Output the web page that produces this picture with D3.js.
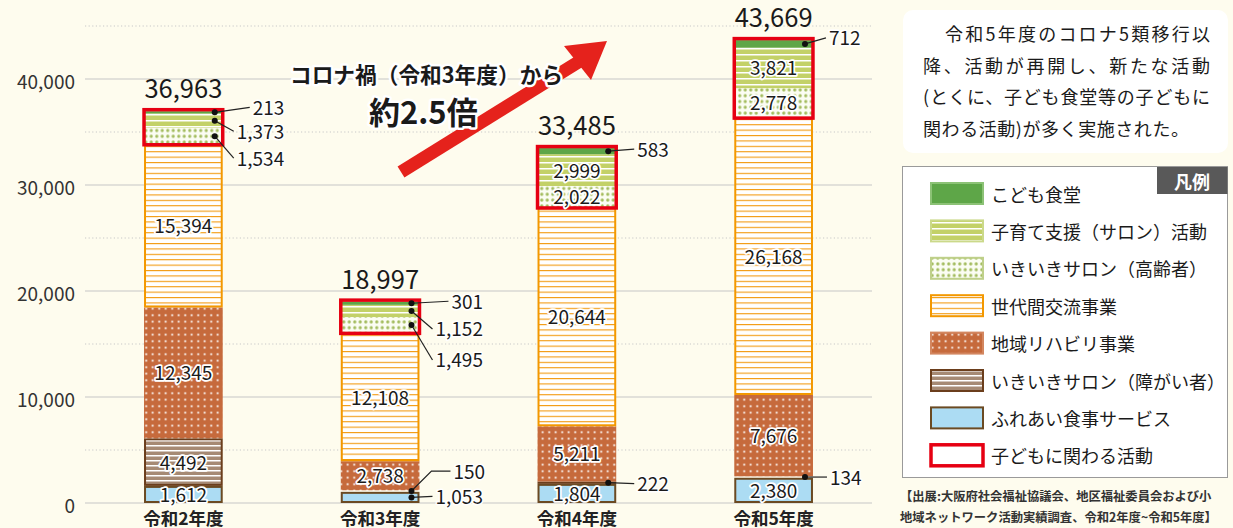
<!DOCTYPE html>
<html lang="ja">
<head>
<meta charset="utf-8">
<script src="https://cdn.jsdelivr.net/npm/d3@7"></script>
<style>
  html, body { margin: 0; padding: 0; background: #fefcee; }
  svg { display: block; font-family: "Noto Sans CJK JP", "Noto Sans", sans-serif; }
</style>
</head>
<body>
<div id="chart"></div>
<script>
// 年度
const years = ["令和2年度", "令和3年度", "令和4年度", "令和5年度"];

// 事業別の件数（下から積み上げ）
const fureai    = [1612, 1053, 1804, 2380];    // ふれあい食事サービス
const shougai   = [4492, 150, 222, 134];       // いきいきサロン（障がい者）
const riha      = [12345, 2738, 5211, 7676];   // 地域リハビリ事業
const sedai     = [15394, 12108, 20644, 26168];// 世代間交流事業
const koureisha = [1534, 1495, 2022, 2778];    // いきいきサロン（高齢者）
const kosodate  = [1373, 1152, 2999, 3821];    // 子育て支援（サロン）活動
const kodomo    = [213, 301, 583, 712];        // こども食堂

const totals = [36963, 18997, 33485, 43669];
const yTicks = [0, 10000, 20000, 30000, 40000];

const seriesKeys = ["fureai", "shougai", "riha", "sedai", "koureisha", "kosodate", "kodomo"];
const seriesNames = {
  kodomo: "こども食堂",
  kosodate: "子育て支援（サロン）活動",
  koureisha: "いきいきサロン（高齢者）",
  sedai: "世代間交流事業",
  riha: "地域リハビリ事業",
  shougai: "いきいきサロン（障がい者）",
  fureai: "ふれあい食事サービス"
};

// 外側に出すラベルの配置（点からのずれ）
const outsideLabels = [
  { bar: 0, key: "kodomo",    dx: 38, dy: -6 },
  { bar: 0, key: "kosodate",  dx: 22, dy: 9.5 },
  { bar: 0, key: "koureisha", dx: 22, dy: 21 },
  { bar: 1, key: "kodomo",    dx: 40, dy: -3 },
  { bar: 1, key: "kosodate",  dx: 24, dy: 17 },
  { bar: 1, key: "koureisha", dx: 24, dy: 34 },
  { bar: 1, key: "shougai",   dx: 42, dy: -21, bend: true },
  { bar: 1, key: "fureai",    dx: 24, dy: -2 },
  { bar: 2, key: "kodomo",    dx: 29, dy: -3 },
  { bar: 2, key: "shougai",   dx: 29, dy: 0 },
  { bar: 3, key: "kodomo",    dx: 24, dy: -7 },
  { bar: 3, key: "shougai",   dx: 25, dy: -1 }
];

const W = 1233, H = 528;
const svg = d3.select("#chart").append("svg")
  .attr("width", W).attr("height", H);

svg.append("rect").attr("width", W).attr("height", H).attr("fill", "#fefcee");

// --- 模様 ---
const defs = svg.append("defs");
function pat(id, w, h, bg) {
  const p = defs.append("pattern").attr("id", id)
    .attr("patternUnits", "userSpaceOnUse").attr("width", w).attr("height", h);
  p.append("rect").attr("width", w).attr("height", h).attr("fill", bg);
  return p;
}
pat("p-kosodate", 6, 6, "#c3d168")
  .append("rect").attr("y", 0).attr("width", 6).attr("height", 1.5).attr("fill", "#fff");
pat("p-koureisha", 5.5, 5.8, "#fbfdf3")
  .append("circle").attr("cx", 2.75).attr("cy", 2.9).attr("r", 1.6).attr("fill", "#a3bc5e");
pat("p-sedai", 6, 5.4, "#fff")
  .append("rect").attr("y", 0).attr("width", 6).attr("height", 1.1).attr("fill", "#f39a10");
pat("p-riha", 6.5, 6.5, "#c66a3c")
  .append("rect").attr("x", 2.3).attr("y", 2.3).attr("width", 1.8).attr("height", 1.8).attr("fill", "#fff");
pat("p-shougai", 6, 5, "#a68a74")
  .append("rect").attr("y", 0).attr("width", 6).attr("height", 1.5).attr("fill", "#fff");

const styles = {
  kodomo:    { fill: "#5ea648", stroke: null },
  kosodate:  { fill: "url(#p-kosodate)", stroke: null },
  koureisha: { fill: "url(#p-koureisha)", stroke: null },
  sedai:     { fill: "url(#p-sedai)", stroke: "#f39800" },
  riha:      { fill: "url(#p-riha)", stroke: null },
  shougai:   { fill: "url(#p-shougai)", stroke: "#6b3e1c" },
  fureai:    { fill: "#acdcf3", stroke: "#6b4a22" }
};

// --- スケール ---
const x = d3.scaleBand().domain(years).range([85, 872]).paddingInner(0.6).paddingOuter(0.3);
const y = d3.scaleLinear().domain([0, 45000]).range([503, 26]);

// グリッド
const g = svg.append("g");
g.selectAll(".minor").data([5000, 15000, 25000, 35000, 45000]).join("line")
  .attr("x1", 85).attr("x2", 872).attr("y1", d => y(d)).attr("y2", d => y(d))
  .attr("stroke", "#c8c8c8").attr("stroke-dasharray", "1.2,2.4");
g.selectAll(".major").data(yTicks).join("line")
  .attr("x1", 85).attr("x2", 872).attr("y1", d => y(d)).attr("y2", d => y(d))
  .attr("stroke", "#c6c6c6").attr("stroke-width", 1.2);

g.selectAll(".ytick").data(yTicks).join("text")
  .attr("x", 75).attr("y", d => y(d) + 1.5)
  .attr("text-anchor", "end").attr("dominant-baseline", "central")
  .attr("font-size", 19).attr("fill", "#333")
  .text(d3.format(","));

// --- 積み上げ ---
const rows = years.map((yr, i) => ({
  year: yr, fureai: fureai[i], shougai: shougai[i], riha: riha[i], sedai: sedai[i],
  koureisha: koureisha[i], kosodate: kosodate[i], kodomo: kodomo[i]
}));
const stacked = d3.stack().keys(seriesKeys)(rows);
const bw = x.bandwidth();

const barG = svg.append("g");
stacked.forEach(s => {
  const st = styles[s.key];
  barG.selectAll(null).data(s).join("rect")
    .attr("x", d => x(d.data.year) + (st.stroke ? 1 : 0))
    .attr("y", d => y(d[1]) + (st.stroke ? 1 : 0))
    .attr("width", bw - (st.stroke ? 2 : 0))
    .attr("height", d => Math.max(0, y(d[0]) - y(d[1]) - (st.stroke ? 2 : 0)))
    .attr("fill", st.fill)
    .attr("stroke", st.stroke)
    .attr("stroke-width", st.stroke ? 2 : 0);
});

// 子どもに関わる活動（赤枠）
const lowIdx = seriesKeys.indexOf("koureisha");
const topIdx = seriesKeys.indexOf("kodomo");
barG.selectAll(".redbox").data(rows).join("rect")
  .attr("x", d => x(d.year))
  .attr("y", (d, i) => y(stacked[topIdx][i][1]) - 1.5)
  .attr("width", bw)
  .attr("height", (d, i) => y(stacked[lowIdx][i][0]) - y(stacked[topIdx][i][1]) + 2)
  .attr("fill", "none").attr("stroke", "#e60012").attr("stroke-width", 3.5);

// X軸ラベル
svg.selectAll(".xl").data(years).join("text")
  .attr("x", d => x(d) + bw / 2).attr("y", 517)
  .attr("text-anchor", "middle").attr("dominant-baseline", "central")
  .attr("font-size", 17.5).attr("font-weight", "bold").attr("fill", "#222")
  .text(d => d);

function halo(sel, w) {
  return sel.attr("stroke", "#fff").attr("stroke-width", w)
    .attr("stroke-linejoin", "round").attr("paint-order", "stroke");
}

// 内側ラベル
const isOutside = (bar, key) => outsideLabels.some(o => o.bar === bar && o.key === key);
stacked.forEach(s => {
  s.forEach((d, i) => {
    if (isOutside(i, s.key)) return;
    halo(svg.append("text"), 3.5)
      .attr("x", x(d.data.year) + bw / 2)
      .attr("y", (y(d[0]) + y(d[1])) / 2 - 1)
      .attr("text-anchor", "middle").attr("dominant-baseline", "central")
      .attr("font-size", 19).attr("fill", "#1a1a1a")
      .text(d3.format(",")(d.data[s.key]));
  });
});

// 外側ラベル（引き出し線）
outsideLabels.forEach(o => {
  const d = stacked[seriesKeys.indexOf(o.key)][o.bar];
  const cx = x(years[o.bar]) + bw - 8;
  const cy = (y(d[0]) + y(d[1])) / 2;
  const lx = cx + o.dx, ly = cy + o.dy;
  const path = o.bend
    ? `M${cx},${cy}L${lx - 22},${ly + 1}L${lx - 3},${ly + 1}`
    : `M${cx},${cy}L${lx - 3},${ly + 1}`;
  svg.append("path").attr("d", path).attr("fill", "none")
    .attr("stroke", "#222").attr("stroke-width", 1.2);
  svg.append("circle").attr("cx", cx).attr("cy", cy).attr("r", 3).attr("fill", "#111");
  halo(svg.append("text"), 3)
    .attr("x", lx).attr("y", ly)
    .attr("dominant-baseline", "central")
    .attr("font-size", 19).attr("fill", "#1a1a1a")
    .text(d3.format(",")(d.data[o.key]));
});

// 合計
svg.selectAll(".total").data(totals).join("text")
  .attr("x", (d, i) => x(years[i]) + bw / 2)
  .attr("y", (d, i) => y(d) - 13)
  .attr("text-anchor", "middle")
  .attr("font-size", 25.5).attr("fill", "#1a1a1a")
  .text(d3.format(","));

// --- 矢印と注記 ---
svg.append("line")
  .attr("x1", 401).attr("y1", 172).attr("x2", 580).attr("y2", 61)
  .attr("stroke", "#e5221c").attr("stroke-width", 13);
svg.append("polygon")
  .attr("points", "607,41 564,46 591,80")
  .attr("fill", "#e5221c");

halo(svg.append("text"), 5)
  .attr("x", 290).attr("y", 73).attr("dominant-baseline", "central")
  .attr("font-size", 22).attr("font-weight", "bold").attr("fill", "#1a1a1a")
  .attr("textLength", 273).attr("lengthAdjust", "spacingAndGlyphs")
  .text("コロナ禍（令和3年度）から");
halo(svg.append("text"), 5)
  .attr("x", 369).attr("y", 110).attr("dominant-baseline", "central")
  .attr("font-size", 31).attr("font-weight", "bold").attr("fill", "#1a1a1a")
  .text("約2.5倍");

// --- 説明文 ---
svg.append("rect").attr("x", 903).attr("y", 10).attr("width", 325).attr("height", 143)
  .attr("rx", 10).attr("fill", "#fff");
const note = [
  "令和5年度のコロナ5類移行以",
  "降、活動が再開し、新たな活動",
  "(とくに、子ども食堂等の子どもに",
  "関わる活動)が多く実施された。"
];
const noteX = [945, 923, 923, 923];
const noteEnd = [1210, 1210, 1210, 1189];
svg.selectAll(".note").data(note).join("text")
  .attr("x", (d, i) => noteX[i])
  .attr("y", (d, i) => 33 + i * 31.5)
  .attr("dominant-baseline", "central")
  .attr("font-size", 18).attr("fill", "#1a1a1a")
  .attr("textLength", (d, i) => noteEnd[i] - noteX[i])
  .attr("lengthAdjust", "spacing")
  .text(d => d);

// --- 凡例 ---
const lg = svg.append("g");
lg.append("rect").attr("x", 902.5).attr("y", 166.5).attr("width", 325).attr("height", 311)
  .attr("fill", "#fff").attr("stroke", "#9a9a9a");
lg.append("rect").attr("x", 1157).attr("y", 167).attr("width", 70.5).attr("height", 27)
  .attr("fill", "#595959");
lg.append("text").attr("x", 1192).attr("y", 181).attr("text-anchor", "middle")
  .attr("dominant-baseline", "central").attr("font-size", 18).attr("font-weight", "bold")
  .attr("fill", "#fff").text("凡例");

const legendKeys = seriesKeys.slice().reverse();
const legendBorder = {
  kodomo: "#8cc276", kosodate: "#cbd98a", koureisha: "#bfd08a", sedai: "#f39800",
  riha: "#d3865f", shougai: "#6b3e1c", fureai: "#6b4a22"
};
legendKeys.forEach((k, i) => {
  const cy = 193.5 + i * 37.4;
  lg.append("rect").attr("x", 931).attr("y", cy - 10.5).attr("width", 52).attr("height", 21)
    .attr("fill", styles[k].fill).attr("stroke", legendBorder[k]).attr("stroke-width", 2);
  lg.append("text").attr("x", 991).attr("y", cy).attr("dominant-baseline", "central")
    .attr("font-size", 18).attr("fill", "#1a1a1a").text(seriesNames[k]);
});
{
  const cy = 193.5 + 7 * 37.4;
  lg.append("rect").attr("x", 931).attr("y", cy - 10.5).attr("width", 52).attr("height", 21)
    .attr("fill", "#fff").attr("stroke", "#e60012").attr("stroke-width", 3.5);
  lg.append("text").attr("x", 991).attr("y", cy).attr("dominant-baseline", "central")
    .attr("font-size", 18).attr("fill", "#1a1a1a").text("子どもに関わる活動");
}

// 出典
svg.selectAll(".src").data([
  "【出展:大阪府社会福祉協議会、地区福祉委員会および小",
  "地域ネットワーク活動実績調査、令和2年度~令和5年度】"
]).join("text")
  .attr("x", 900).attr("y", (d, i) => 496 + i * 21)
  .attr("dominant-baseline", "central")
  .attr("font-size", 12.3).attr("font-weight", "bold").attr("fill", "#333")
  .text(d => d);
</script>
</body>
</html>
